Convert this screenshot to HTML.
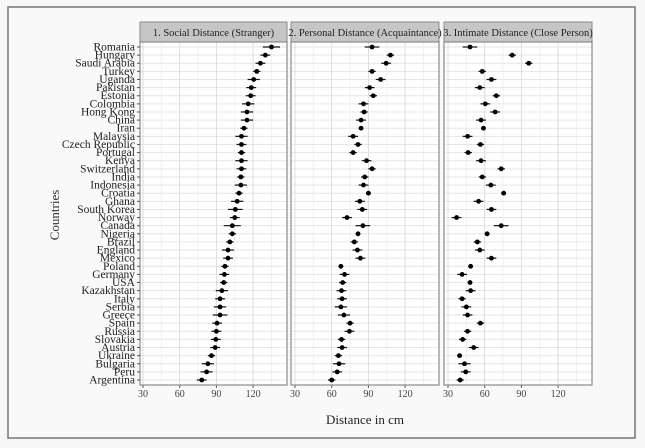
<!DOCTYPE html>
<html><head><meta charset="utf-8"><style>
html,body{margin:0;padding:0;background:#f7f7f7;}
svg{display:block;font-family:"Liberation Serif",serif;}
</style></head><body>
<svg id="c" width="645" height="448" xmlns="http://www.w3.org/2000/svg">
<rect x="8" y="7" width="627" height="431" fill="#f9f9f9" stroke="#777" stroke-width="1.5"/>
<text x="365" y="424" font-size="13" text-anchor="middle" fill="#222">Distance in cm</text>
<text x="0" y="0" font-size="13" text-anchor="middle" fill="#333" transform="translate(59,215) rotate(-90)">Countries</text>
</svg>
<script>
const countries=["Romania","Hungary","Saudi Arabia","Turkey","Uganda","Pakistan","Estonia","Colombia","Hong Kong","China","Iran","Malaysia","Czech Republic","Portugal","Kenya","Switzerland","India","Indonesia","Croatia","Ghana","South Korea","Norway","Canada","Nigeria","Brazil","England","Mexico","Poland","Germany","USA","Kazakhstan","Italy","Serbia","Greece","Spain","Russia","Slovakia","Austria","Ukraine","Bulgaria","Peru","Argentina"];
const panelTitles=["1. Social Distance (Stranger)","2. Personal Distance (Acquaintance)","3. Intimate Distance (Close Person)"];
const social=[135,130,126,123,120.5,118.5,118,116,115,115,112.5,110.5,110.5,110.5,110.5,110.5,110,110,108.5,107,105.5,105,103,103,101,99.5,99.5,97,96.5,96,94.5,93,93,93,90.5,90,89.5,89,86,83,82,78];
const socialErr=[7,4,4,3,5,4,4,5,5,5,3,5,4,3,5,4,3,5,3,5,6,4,7,3,3,5,4,3,4,3,5,4,5,6,4,4,4,4,3,5,5,4];
const personal=[93,108,104.5,93,100,91,94,86,86.5,84,84,77.5,81.5,77.5,88.5,93,87,86,90,83,85,72.5,85.5,81.5,78.5,81,83.5,67.5,70.5,69,68,68.5,67.5,70,75,74.5,68,68.5,65.5,66,64.5,60];
const personalErr=[6,3,4,3,4,4,3,4,3,4,2,4,3,3,4,3,3,4,2,4,4,4,6,2,3,4,4,2,4,3,4,4,5,5,3,4,3,4,3,5,4,3];
const intimate=[48,82.5,96,58,65.5,56,69.5,60.5,68.5,57,59,46,56.5,46.5,57,73.5,58,65,75.5,55,65.5,37,73.5,62,54,56,65.5,48.5,41.5,48,48.5,41.5,45,46,56.5,46,42,51,39.5,43.5,44.5,40];
const intimateErr=[6,3,3,3,4,4,3,4,4,4,2,4,3,3,4,3,3,4,2,4,4,4,6,2,3,4,4,2,4,2,4,3,4,4,3,3,3,4,2,5,4,3];
const ticks=[30,60,90,120];
const minor=[45,75,105,135];
const series=[social,personal,intimate];
const errs=[socialErr,personalErr,intimateErr];

const NS="http://www.w3.org/2000/svg";
const svg=document.getElementById('c');
function mk(t,a,p){const e=document.createElementNS(NS,t);for(const k in a)e.setAttribute(k,a[k]);(p||svg).appendChild(e);return e;}
const panels=[{x0:140,x1:287,t30:143},{x0:291,x1:439,t30:295},{x0:444,x1:592,t30:448}];
const pxPer=36.7/30;
const yTop=42,yBot=385,r0=47,r1=380;
function yPos(i){return r0+i*(r1-r0)/(countries.length-1);}

panels.forEach((p,k)=>{
  const xs=v=>p.t30+(v-30)*pxPer;
  const g=mk('g',{});
  
  
  const hdr=mk('rect',{x:p.x0,y:22,width:p.x1-p.x0,height:20,fill:'#c6c6c6',stroke:'#8a8a8a','stroke-width':1},g);
  
  
  const ht=mk('text',{x:(p.x0+p.x1)/2,y:36,'font-size':10.5,'text-anchor':'middle',fill:'#222'},g);
  ht.textContent=panelTitles[k];
  
  
  mk('rect',{x:p.x0,y:yTop,width:p.x1-p.x0,height:yBot-yTop,fill:'#fff'},g);
  countries.forEach((c,i)=>{mk('line',{x1:p.x0,x2:p.x1,y1:yPos(i),y2:yPos(i),stroke:'#e6e6e6','stroke-width':1},g);});
  minor.forEach(v=>{const x=xs(v);if(x<p.x1)mk('line',{x1:x,x2:x,y1:yTop,y2:yBot,stroke:'#eeeeee','stroke-width':0.8},g);});
  ticks.forEach(v=>{const x=xs(v);
    mk('line',{x1:x,x2:x,y1:yTop,y2:yBot,stroke:'#dcdcdc','stroke-width':1},g);
    mk('line',{x1:x,x2:x,y1:yBot,y2:yBot+3,stroke:'#555','stroke-width':1},g);
    const t=mk('text',{x:x,y:yBot+12,'font-size':10,'text-anchor':'middle',fill:'#444'},g);
    t.textContent=v;
    
    
  });
  const fr=mk('rect',{x:p.x0,y:yTop,width:p.x1-p.x0,height:yBot-yTop,fill:'none',stroke:'#8a8a8a','stroke-width':1.2},g);
  
  
  series[k].forEach((v,i)=>{
    const y=yPos(i),e=errs[k][i];
    const l=mk('line',{x1:xs(v-e),x2:xs(v+e),y1:y,y2:y,stroke:'#111','stroke-width':1.2},g);
    
    
    const d=mk('circle',{cx:xs(v),cy:y,r:2.4,fill:'#000'},g);
    
    
  });
});
countries.forEach((c,i)=>{
  const y=yPos(i);
  mk('line',{x1:137,x2:140,y1:y,y2:y,stroke:'#555','stroke-width':1});
  const t=mk('text',{x:135,y:y+3.5,'font-size':11.5,'text-anchor':'end',fill:'#222'});
  t.textContent=c;
  
  
});
</script>
</body></html>
